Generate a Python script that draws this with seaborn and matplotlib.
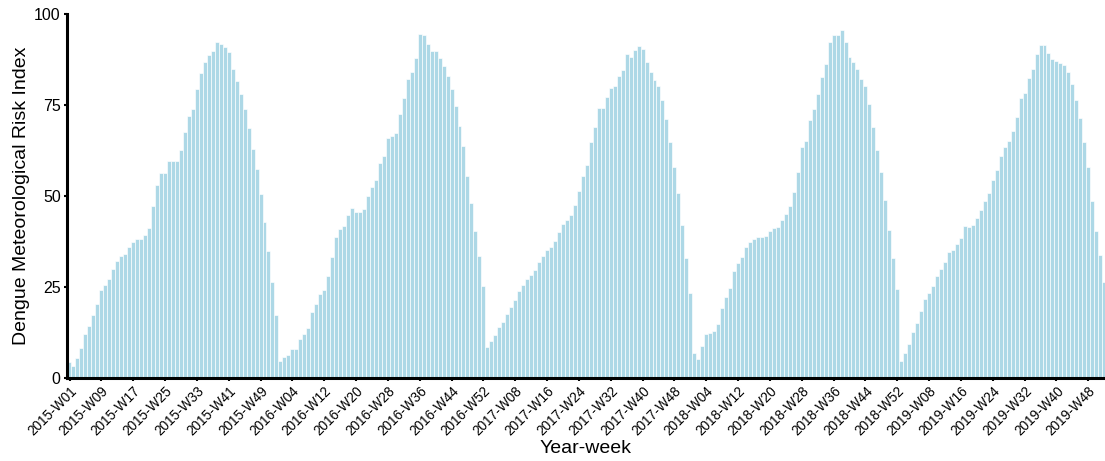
import numpy as np
import pandas as pd
import matplotlib
matplotlib.use("Agg")
import matplotlib.pyplot as plt
import seaborn as sns

# ---------------------------------------------------------------
# data: weekly risk index, one list per year (ISO weeks)
# ---------------------------------------------------------------
years = [2015, 2016, 2017, 2018, 2019]
weeks_per_year = [53, 52, 52, 52, 52]

risk_2015 = [4.3, 3.4, 5.4, 8.2, 12.2, 14.4, 17.4, 20.3, 24.2, 25.6,
             27.2, 30.0, 32.1, 33.6, 34.1, 35.9, 37.3, 38.2, 38.3, 39.3,
             41.1, 47.3, 52.9, 56.4, 56.4, 59.7, 59.5, 59.7, 62.7, 67.5,
             71.9, 73.9, 79.3, 83.8, 86.7, 88.7, 89.8, 92.3, 91.7, 90.9,
             89.6, 84.8, 81.6, 78.0, 73.8, 68.8, 62.9, 57.4, 50.5, 42.8,
             35.0, 26.3, 17.4]
risk_2016 = [4.6, 5.8, 6.4, 8.1, 8.1, 10.7, 12.0, 13.8, 18.0, 20.3,
             23.2, 24.2, 27.9, 33.2, 38.8, 41.0, 41.8, 44.9, 46.8, 45.6,
             45.7, 46.4, 49.9, 52.5, 54.5, 59.0, 61.1, 65.8, 66.5, 67.4,
             72.4, 76.9, 82.2, 84.1, 88.0, 94.6, 94.2, 91.7, 89.9, 89.7,
             88.0, 85.7, 82.9, 79.3, 74.7, 69.1, 63.8, 55.6, 48.0, 40.3,
             33.4, 25.3]
risk_2017 = [8.5, 10.2, 11.7, 13.9, 15.5, 17.7, 19.6, 21.4, 24.0, 25.6,
             27.2, 28.4, 29.6, 31.9, 33.6, 35.2, 36.1, 37.7, 40.2, 42.4,
             43.3, 44.8, 47.4, 51.4, 55.6, 58.6, 64.8, 68.9, 74.2, 74.2,
             77.3, 79.7, 80.2, 83.1, 84.5, 89.1, 88.3, 90.0, 91.3, 90.3,
             86.8, 84.1, 81.8, 80.2, 76.5, 71.2, 64.8, 58.1, 50.7, 42.1,
             33.0, 23.4]
risk_2018 = [6.8, 5.1, 8.9, 12.2, 12.4, 12.9, 14.8, 19.3, 22.3, 24.6,
             29.4, 31.6, 33.3, 36.0, 37.3, 38.2, 38.8, 38.8, 39.1, 40.3,
             41.2, 41.6, 43.3, 45.0, 47.3, 51.0, 56.6, 63.4, 65.2, 70.9,
             73.8, 78.0, 82.7, 86.2, 92.4, 94.1, 94.2, 95.6, 92.2, 88.3,
             86.9, 84.9, 82.2, 80.1, 75.3, 68.9, 62.7, 56.6, 49.0, 40.7,
             32.9, 24.5]
risk_2019 = [4.8, 7.0, 9.3, 12.6, 15.0, 18.3, 21.7, 23.4, 25.2, 28.1,
             30.0, 31.8, 34.6, 35.3, 36.9, 38.4, 41.7, 41.5, 41.9, 44.0,
             46.2, 48.6, 50.9, 54.4, 57.1, 61.0, 63.4, 65.1, 67.8, 71.6,
             76.8, 78.2, 82.3, 84.9, 89.1, 91.5, 91.5, 89.4, 87.6, 87.1,
             86.5, 85.9, 84.0, 80.8, 76.4, 71.4, 64.9, 58.0, 48.7, 40.5,
             33.9, 26.3]

y_ticks = [0, 25, 50, 75, 100]
tick_step = 8

# year-week category labels
week_labels = [f"{y}-W{w:02d}" for y, n in zip(years, weeks_per_year) for w in range(1, n + 1)]
risk = risk_2015 + risk_2016 + risk_2017 + risk_2018 + risk_2019
df = pd.DataFrame({"week": week_labels, "risk": risk})

# ---------------------------------------------------------------
# plot
# ---------------------------------------------------------------
sns.set_style("ticks")
plt.rcParams["font.family"] = ["Liberation Sans", "DejaVu Sans"]
plt.rcParams.update({"text.color": "black", "axes.labelcolor": "black",
                     "xtick.color": "black", "ytick.color": "black"})

fig = plt.figure(figsize=(11.05, 4.61), dpi=100)
ax = fig.add_axes([67 / 1105, 1 - 378 / 461, 1 - 67 / 1105, (378 - 14) / 461])

sns.barplot(data=df, x="week", y="risk", color="lightblue", saturation=1,
            width=1.0, edgecolor="white", linewidth=0.45, ax=ax)

ax.set_xlim(-0.63, len(df) - 0.8)
ax.set_ylim(0, 100)
ax.set_yticks(y_ticks)
ax.set_yticklabels([str(v) for v in y_ticks], fontsize=11.5)

pos = list(range(0, len(df), tick_step))
ax.set_xticks(pos)
ax.set_xticklabels([week_labels[i] for i in pos], rotation=45, ha="right",
                   rotation_mode="anchor", fontsize=9.8)

ax.set_xlabel("Year-week", fontsize=14, labelpad=1)
ax.set_ylabel("Dengue Meteorological Risk Index", fontsize=14, labelpad=3)

sns.despine(ax=ax)
for s in ["left", "bottom"]:
    ax.spines[s].set_linewidth(2.2)
    ax.spines[s].set_color("black")
ax.tick_params(axis="both", width=1.5, length=2.5, pad=2, color="black")

fig.savefig("out.png", dpi=100)
plt.close(fig)
